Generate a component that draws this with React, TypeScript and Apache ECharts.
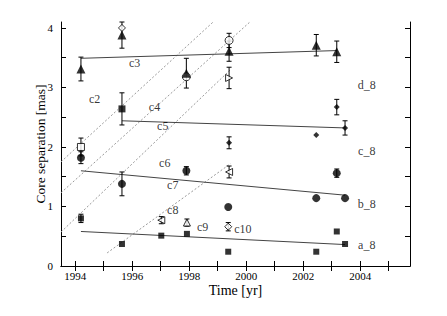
import React, { useEffect, useRef } from "react";
import * as echarts from "echarts";

const X_MIN = 1993.5;
const X_MAX = 2005.75;
const Y_MIN = 0;
const Y_MAX = 4.1;

const xTickValues = [1994, 1995, 1996, 1997, 1998, 1999, 2000, 2001, 2002, 2003, 2004, 2005];
const xLabelValues = [1994, 1996, 1998, 2000, 2002, 2004];
const yTickValues = [0, 0.5, 1, 1.5, 2, 2.5, 3, 3.5, 4];
const yLabelValues = [0, 1, 2, 3, 4];

// [year, separation, error]
const filledTriangles = [
  [1994.2, 3.31, 0.2],
  [1995.64, 3.88, 0.22],
  [1997.9, 3.24, 0.25],
  [1999.4, 3.61, 0.17],
  [2002.46, 3.71, 0.18],
  [2003.18, 3.6, 0.18],
];
const openCircles = [
  [1997.9, 3.18, 0],
  [1999.4, 3.79, 0.12],
];
const openDiamonds = [
  [1995.64, 4.0, 0],
  [1999.37, 0.66, 0.07],
];
const openRightTriangles = [[1999.4, 3.16, 0.18]];
const filledDiamonds = [
  [1999.4, 2.07, 0.1],
  [2002.46, 2.2, 0],
  [2003.18, 2.67, 0.13],
  [2003.47, 2.32, 0.12],
];
const filledBigSquares = [[1995.64, 2.64, 0.27]];
const openSquares = [[1994.2, 2.0, 0.15]];
const filledCircles = [
  [1994.2, 1.82, 0.1],
  [1995.64, 1.38, 0.2],
  [1997.9, 1.6, 0.07],
  [1999.37, 0.99, 0],
  [2002.46, 1.14, 0],
  [2003.47, 1.14, 0],
  [2003.18, 1.56, 0.07],
];
const openLeftTriangles = [
  [1999.4, 1.58, 0.1],
  [1997.02, 0.77, 0.06],
];
const openUpTriangles = [[1997.92, 0.73, 0.06]];
const filledSquares = [
  [1994.2, 0.8, 0.07],
  [1995.64, 0.37, 0],
  [1997.02, 0.51, 0],
  [1997.92, 0.54, 0],
  [1999.37, 0.24, 0],
  [2002.46, 0.24, 0],
  [2003.18, 0.58, 0],
  [2003.47, 0.37, 0],
];

// solid fit lines
const fitD = [[1994.2, 3.49], [2003.18, 3.62]];
const fitC = [[1995.64, 2.44], [2003.47, 2.32]];
const fitB = [[1994.2, 1.6], [2003.47, 1.19]];
const fitA = [[1994.2, 0.58], [2003.47, 0.36]];

// dotted motion lines
const dotL1 = [[1993.5, 1.75], [1998.84, 4.1]];
const dotL2 = [[1993.5, 1.23], [2000.13, 4.1]];
const dotL3 = [[1993.5, 0.57], [1999.45, 3.3]];
const dotL4 = [[1995.12, 0.22], [1999.45, 1.72]];

// text labels
const labelNames = ["c3", "c2", "c4", "c5", "c6", "c7", "c8", "c9", "c10", "d_8", "c_8", "b_8", "a_8"];
const labelX = [1996.1, 1994.7, 1996.8, 1997.09, 1997.16, 1997.44, 1997.44, 1998.49, 1999.9, 2004.25, 2004.25, 2004.25, 2004.25];
const labelY = [3.41, 2.79, 2.67, 2.34, 1.73, 1.36, 0.94, 0.64, 0.61, 3.04, 1.93, 1.03, 0.34];

const FONT = "Liberation Serif";

function errorSeries(data: number[][]) {
  return {
    type: "custom",
    silent: true,
    z: 2,
    data: data.filter((d) => d[2] > 0),
    renderItem: (params: any, api: any) => {
      const x = api.value(0);
      const y = api.value(1);
      const e = api.value(2);
      const top = api.coord([x, y + e]);
      const bot = api.coord([x, y - e]);
      const w = 2.5;
      const style = { stroke: "#000", lineWidth: 1 };
      return {
        type: "group",
        children: [
          { type: "line", shape: { x1: top[0], y1: top[1], x2: bot[0], y2: bot[1] }, style },
          { type: "line", shape: { x1: top[0] - w, y1: top[1], x2: top[0] + w, y2: top[1] }, style },
          { type: "line", shape: { x1: bot[0] - w, y1: bot[1], x2: bot[0] + w, y2: bot[1] }, style },
        ],
      };
    },
  };
}

function markerSeries(data: number[][], symbol: string, size: number, filled: boolean, rotate = 0) {
  return {
    type: "scatter",
    z: 3,
    symbol,
    symbolSize: size,
    symbolRotate: rotate,
    data: data.map((d) => [d[0], d[1]]),
    itemStyle: filled
      ? { color: "#000" }
      : { color: "#fff", borderColor: "#000", borderWidth: 1 },
  };
}

function lineSeries(data: number[][], dotted: boolean) {
  return {
    type: "line",
    z: 1,
    data,
    symbol: "none",
    silent: true,
    lineStyle: dotted
      ? { color: "#999", width: 1, type: [2, 2] }
      : { color: "#444", width: 1 },
  };
}

export default function App() {
  const ref = useRef<HTMLDivElement>(null);
  useEffect(() => {
    if (!ref.current) return;
    const chart = echarts.init(ref.current, undefined, { renderer: "svg" });
    const axisLine = { show: true, lineStyle: { color: "#000", width: 1 } };
    const labelData = labelNames.map((n, i) => ({ value: [labelX[i], labelY[i]], name: n }));
    const fmt = (v: number) => String(v);
    chart.setOption({
      animation: false,
      backgroundColor: "#fff",
      grid: { left: 61, right: 37, top: 22, bottom: 50 },
      xAxis: [
        {
          type: "value",
          min: X_MIN,
          max: X_MAX,
          position: "bottom",
          axisLine,
          axisTick: { inside: true, length: 5, customValues: xTickValues, lineStyle: { color: "#000" } },
          axisLabel: { customValues: xLabelValues, formatter: fmt, fontFamily: FONT, fontSize: 11, color: "#000", margin: 4 },
          splitLine: { show: false },
          name: "Time [yr]",
          nameLocation: "middle",
          nameGap: 17,
          nameMoveOverlap: false,
          nameTextStyle: { fontFamily: FONT, fontSize: 14, color: "#000" },
        },
        {
          type: "value",
          min: X_MIN,
          max: X_MAX,
          position: "top",
          axisLine,
          axisTick: { inside: true, length: 5, customValues: xTickValues, lineStyle: { color: "#000" } },
          axisLabel: { show: false },
          splitLine: { show: false },
        },
      ],
      yAxis: [
        {
          type: "value",
          min: Y_MIN,
          max: Y_MAX,
          position: "left",
          axisLine,
          axisTick: { inside: true, length: 5, customValues: yTickValues, lineStyle: { color: "#000" } },
          axisLabel: { customValues: yLabelValues, formatter: fmt, fontFamily: FONT, fontSize: 11, color: "#000", margin: 8 },
          splitLine: { show: false },
          name: "Core separation [mas]",
          nameLocation: "middle",
          nameGap: 14,
          nameMoveOverlap: false,
          nameTextStyle: { fontFamily: FONT, fontSize: 13.5, color: "#000" },
        },
        {
          type: "value",
          min: Y_MIN,
          max: Y_MAX,
          position: "right",
          axisLine,
          axisTick: { inside: true, length: 5, customValues: yTickValues, lineStyle: { color: "#000" } },
          axisLabel: { show: false },
          splitLine: { show: false },
        },
      ],
      series: [
        lineSeries(dotL1, true),
        lineSeries(dotL2, true),
        lineSeries(dotL3, true),
        lineSeries(dotL4, true),
        lineSeries(fitD, false),
        lineSeries(fitC, false),
        lineSeries(fitB, false),
        lineSeries(fitA, false),
        errorSeries([
          ...filledTriangles, ...openCircles, ...openDiamonds, ...openRightTriangles,
          ...filledDiamonds, ...filledBigSquares, ...openSquares, ...filledCircles,
          ...openLeftTriangles, ...openUpTriangles, ...filledSquares,
        ]),
        markerSeries(openCircles, "circle", 8, false),
        markerSeries(openDiamonds, "diamond", 7, false),
        markerSeries(openRightTriangles, "triangle", 7, false, -90),
        markerSeries(openLeftTriangles, "triangle", 7, false, 90),
        markerSeries(openUpTriangles, "triangle", 7, false),
        markerSeries(openSquares, "rect", 7, false),
        markerSeries(filledTriangles, "triangle", 9, true),
        markerSeries(filledDiamonds, "diamond", 6, true),
        markerSeries(filledBigSquares, "rect", 7, true),
        markerSeries(filledCircles, "circle", 8, true),
        markerSeries(filledSquares, "rect", 6, true),
        {
          type: "scatter",
          z: 4,
          symbolSize: 1,
          silent: true,
          itemStyle: { color: "rgba(0,0,0,0)" },
          data: labelData,
          label: {
            show: true,
            position: [0, 0],
            align: "center",
            verticalAlign: "middle",
            formatter: (p: any) => p.name,
            fontFamily: FONT,
            fontSize: 12,
            color: "#000",
            textBorderWidth: 0,
            textBorderColor: "transparent",
          },
        },
      ],
    });
    return () => chart.dispose();
  }, []);
  return (
    <div
      ref={ref}
      style={{ position: "absolute", left: 0, top: 0, width: 447, height: 316 }}
    />
  );
}
